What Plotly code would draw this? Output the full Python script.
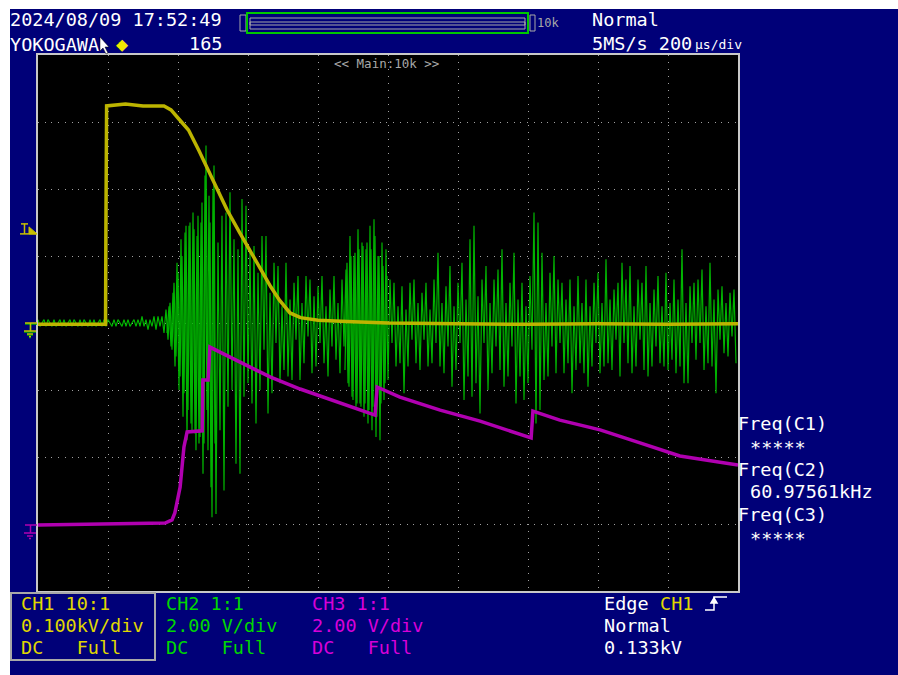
import numpy as np
import plotly.graph_objects as go

# ---------------- data (time in µs, 200 µs/div, 10 div on screen) ----------------
# CH1 : 0.100 kV/div, ground at 0 div
ch1_t_us = [0, 193, 194, 196, 250, 300, 360, 380, 400, 430, 460, 480, 510, 540, 575,
            605, 635, 665, 690, 720, 750, 800, 900, 1000, 1200, 1400, 1600, 1800, 2000]
ch1_kv = [-0.002, -0.002, 0.135, 0.324, 0.327, 0.324, 0.324, 0.318, 0.306, 0.288, 0.257,
          0.235, 0.203, 0.169, 0.136, 0.109, 0.080, 0.054, 0.034, 0.015, 0.008, 0.004,
          0.002, 0.000, -0.001, -0.002, -0.001, -0.002, -0.001]

# CH3 : 2.00 V/div, ground at -3 div
ch3_t_us = [0, 177, 363, 383, 391, 406, 417, 426, 469, 471, 486, 491, 520, 549, 606, 663,
            749, 863, 963, 969, 1034, 1149, 1263, 1409, 1414, 1491, 1606, 1720, 1834, 2000]
ch3_v = [-0.03, 0.0, 0.03, 0.12, 0.33, 1.10, 2.30, 2.75, 2.78, 4.30, 4.30, 5.28, 5.13, 4.96,
         4.66, 4.39, 4.03, 3.61, 3.25, 4.09, 3.79, 3.40, 3.07, 2.57, 3.37, 3.10, 2.81, 2.42,
         2.03, 1.76]

# CH2 : 2.00 V/div, ground at 0 div, samples every 2000/350 µs
ch2_v = [
    0.1, -0.1, 0.0, 0.1, -0.1, 0.1, 0.0, -0.1, 0.1, -0.1,
    0.0, 0.1, -0.1, 0.1, -0.1, 0.0, 0.1, -0.1, 0.1, 0.0,
    -0.1, 0.1, -0.1, 0.1, 0.0, -0.1, 0.1, -0.1, 0.1, -0.1,
    0.0, 0.1, -0.1, 0.1, -0.1, 0.1, 0.0, -0.1, 0.1, -0.1,
    0.1, 0.0, -0.1, 0.1, -0.1, 0.1, -0.1, 0.0, 0.1, -0.1,
    0.1, -0.1, 0.2, -0.1, 0.1, -0.2, 0.1, -0.1, 0.2, -0.2,
    0.2, -0.1, 0.2, -0.3, 0.4, -0.5, 0.6, -0.8, 1.2, -1.0,
    1.5, -1.6, 2.0, -2.1, 2.9, -2.6, 3.0, -3.2, 2.8, -3.8,
    3.2, -3.4, 3.6, -3.6, 5.3, -3.8, 3.0, -5.8, 4.7, -5.7,
    2.4, -3.2, 3.2, -5.0, 3.3, -2.5, 3.9, -2.0, 2.5, -4.2,
    2.2, -4.5, 3.7, -2.2, 3.5, -1.8, 2.1, -2.4, 2.3, -3.0,
    1.5, -2.0, 2.6, -0.8, 2.6, -2.7, 0.9, -2.1, 1.8, -0.6,
    1.7, -1.8, 0.5, -1.4, 1.8, -1.6, 0.7, -1.7, 1.2, -0.5,
    1.4, -1.7, 0.6, -1.2, 1.4, -0.4, 1.3, -1.5, 0.8, -1.3,
    1.1, -0.6, 1.4, -1.2, 0.5, -1.6, 1.0, -0.7, 1.4, -1.1,
    0.6, -1.5, 1.3, -0.7, 1.6, -1.8, 2.6, -2.2, 2.0, -2.5,
    2.8, -2.4, 2.4, -2.8, 2.2, -3.0, 2.9, -3.2, 3.1, -3.4,
    2.0, -3.5, 2.4, -2.3, 2.2, -1.7, 1.3, -0.6, 1.2, -1.3,
    0.5, -1.2, 1.1, -2.1, 0.4, -1.3, 1.2, -0.5, 1.3, -1.2,
    0.6, -1.4, 0.9, -0.5, 1.2, -1.3, 0.4, -1.2, 1.3, -0.6,
    2.1, -1.3, 0.6, -1.5, 1.1, -0.7, 1.7, -1.9, 0.5, -1.4,
    1.2, -0.6, 1.8, -2.3, 0.7, -1.6, 2.5, -2.2, 2.9, -1.8,
    0.8, -2.7, 1.3, -0.6, 1.7, -2.0, 0.6, -1.5, 1.3, -0.7,
    1.6, -1.4, 2.2, -1.9, 0.6, -1.6, 1.2, -0.7, 2.1, -2.4,
    0.7, -1.6, 1.2, -2.3, 0.5, -1.8, 1.4, -0.8, 3.3, -3.0,
    3.0, -2.6, 2.1, -1.7, 0.6, -1.6, 1.5, -0.7, 2.0, -1.5,
    1.3, -0.6, 1.2, -1.5, 0.7, -1.2, 1.3, -2.1, 0.5, -1.4,
    1.4, -1.2, 0.6, -1.5, 1.3, -1.9, 0.5, -1.3, 1.2, -0.6,
    1.5, -1.5, 0.6, -1.3, 1.9, -1.2, 0.7, -1.4, 1.0, -0.5,
    1.2, -1.6, 1.8, -0.6, 1.3, -1.2, 1.7, -1.5, 0.5, -1.3,
    1.3, -0.5, 1.2, -1.4, 1.7, -1.6, 0.6, -1.3, 1.0, -0.7,
    1.4, -1.2, 0.5, -1.3, 1.5, -1.4, 0.6, -1.1, 1.3, -1.5,
    0.7, -1.3, 2.2, -1.8, 0.6, -1.8, 1.1, -0.6, 1.2, -1.1,
    1.3, -0.6, 1.6, -1.4, 0.5, -1.2, 1.8, -1.3, 0.7, -2.1,
    1.0, -0.5, 1.1, -0.9, 0.6, -1.0, 0.9, -0.4, 1.0, -1.2,
]
CH2_DT_US = 2000 / 350

# CH2 in-between samples inside the two dense bursts (start time in µs, values in V)
ch2_burst1_t0_us = 368.6
ch2_burst1_v = [-0.3, 0.5, -0.7, 0.9, -1.3, 1.8, -2.0, 2.5, -2.8, 2.7, -3.5, 2.9, -3.0,
                3.3, -3.3, 2.6, -3.6, 3.0, -4.5, 4.4, -2.6, 3.8, -4.9, 4.0, -3.6]
ch2_burst2_t0_us = 877.1
ch2_burst2_v = [-1.4, 1.8, -1.9, 2.0, -2.3, 2.1, -2.4, 2.2, -2.5, 2.3, -2.4, 2.4, -2.6,
                2.2, -2.5, 2.6, -2.8, 2.0, -2.4, 1.7, -1.8, 1.4]

CH1_SCALE, CH1_OFFSET = 0.1, 0.0   # kV/div, div
CH2_SCALE, CH2_OFFSET = 2.0, 0.0   # V/div
CH3_SCALE, CH3_OFFSET = 2.0, -3.0  # V/div

# ---------------- styling ----------------
NAVY = "#000078"
YEL_T = "#bcb400"
GRN_T = "#00b400"
MAG_T = "#b000b0"
YEL = "#e0d800"
GRN = "#00d800"
MAG = "#d800d8"
GRAY = "#a8a8a8"
MONO = "DejaVu Sans Mono"
FS = 18.5

L, R, T, B = 38, 738, 55, 591
W, H = 898, 675


def px(x):
    return (x - L) / (R - L)


def py(y):
    return (B - y) / (B - T)


fig = go.Figure()

ch2_t = np.arange(len(ch2_v)) * CH2_DT_US
fig.add_trace(go.Scatter(x=ch2_t, y=np.array(ch2_v) / CH2_SCALE + CH2_OFFSET, mode="lines",
                         line=dict(color=GRN_T, width=1.2), hoverinfo="skip"))
for t0, vals in [(ch2_burst1_t0_us, ch2_burst1_v), (ch2_burst2_t0_us, ch2_burst2_v)]:
    tt = t0 + np.arange(len(vals)) * CH2_DT_US
    fig.add_trace(go.Scatter(x=tt, y=np.array(vals) / CH2_SCALE + CH2_OFFSET, mode="lines",
                             line=dict(color=GRN_T, width=1.2), hoverinfo="skip"))
fig.add_trace(go.Scatter(x=ch3_t_us, y=np.array(ch3_v) / CH3_SCALE + CH3_OFFSET, mode="lines",
                         line=dict(color=MAG_T, width=3.5), hoverinfo="skip"))
fig.add_trace(go.Scatter(x=ch1_t_us, y=np.array(ch1_kv) / CH1_SCALE + CH1_OFFSET, mode="lines",
                         line=dict(color=YEL_T, width=3.5), hoverinfo="skip"))

ann = []


def txt(x, y, s, color="#ffffff", size=FS, anchor="left"):
    ann.append(dict(x=px(x), y=py(y), xref="paper", yref="paper", text=s, showarrow=False,
                    xanchor=anchor, yanchor="middle", borderpad=0,
                    font=dict(family=MONO, size=size, color=color)))


# header
txt(9, 20, "2024/08/09 17:52:49")
txt(9, 45, "YOKOGAWA")
txt(115, 44, "◆", "#f0e800", 20)
txt(223, 43, "165", anchor="right")
txt(536, 23, "10k", GRAY, 12)
txt(591, 20, "Normal")
txt(591, 43, "5MS/s 200")
txt(694, 44, "µs/div", "#ffffff", 13)
txt(386, 63, "&lt;&lt; Main:10k &gt;&gt;", GRAY, 12.5, "center")

# right panel
txt(737, 423, "Freq(C1)")
txt(749, 447, "*****")
txt(737, 469, "Freq(C2)")
txt(749, 491, "60.97561kHz")
txt(737, 514, "Freq(C3)")
txt(749, 538, "*****")

# bottom panel
rows = [603, 625, 647]
for x0, col, lines in [(20, YEL, ["CH1 10:1", "0.100kV/div", "DC   Full"]),
                       (165, GRN, ["CH2 1:1", "2.00 V/div", "DC   Full"]),
                       (311, MAG, ["CH3 1:1", "2.00 V/div", "DC   Full"])]:
    for yy, s in zip(rows, lines):
        txt(x0, yy, s, col)
txt(603, 603, "Edge")
txt(659, 603, "CH1", YEL)
txt(603, 625, "Normal")
txt(603, 647, "0.133kV")

shapes = []


def rect(x0, y0, x1, y1, color, width=1, fill=None):
    shapes.append(dict(type="rect", xref="paper", yref="paper", x0=px(x0), x1=px(x1),
                       y0=py(y1), y1=py(y0), line=dict(color=color, width=width),
                       fillcolor=fill if fill else "rgba(0,0,0,0)", layer="above"))


def path(pts, color, width=1, fill=None, closed=False):
    d = "M " + " L ".join(f"{px(a):.5f},{py(b):.5f}" for a, b in pts)
    if closed:
        d += " Z"
    shapes.append(dict(type="path", xref="paper", yref="paper", path=d,
                       line=dict(color=color, width=width),
                       fillcolor=fill if fill else "rgba(0,0,0,0)", layer="above"))


# white frame strips (left and top)
rect(-20, -20, 10, 700, "#ffffff", 0, "#ffffff")
rect(-20, -20, 920, 9, "#ffffff", 0, "#ffffff")

# top bar graphic
rect(240, 15, 246, 31, GRAY, 1)
rect(247, 13, 528, 33, "#00c800", 2)
rect(250, 18, 525, 29, GRAY, 1)
rect(250, 22, 525, 25, GRAY, 1)
rect(530, 15, 535, 31, GRAY, 1)

# mouse pointer
path([(100, 37), (100, 51), (103, 48), (106, 54), (108, 53), (105, 47), (109, 47)],
     "#000000", 0.5, "#ffffff", True)

# bottom CH1 box
rect(11, 593, 155, 660, GRAY, 2)

# trigger edge symbol
path([(705, 610), (714, 610), (714, 597), (727, 597)], "#ffffff", 1.5)
path([(711, 603), (714, 598), (717, 603)], "#ffffff", 1.5, "#ffffff", True)

# trigger level marker (CH1, 0.133 kV)
trig_y = 323 - 0.133 / CH1_SCALE * 67
path([(20, trig_y), (37, trig_y)], "#c8c000", 1.5)
path([(21, trig_y - 10), (28, trig_y - 10)], "#c8c000", 1.5)
path([(24.5, trig_y - 10), (24.5, trig_y)], "#c8c000", 1.5)
path([(29, trig_y - 7), (29, trig_y), (37, trig_y)], "#c8c000", 1, "#c8c000", True)


def ground(yl, color):
    path([(25, yl), (37, yl)], color, 1.5)
    path([(30.5, yl), (30.5, yl + 8)], color, 1.5)
    path([(24, yl + 8), (36, yl + 8)], color, 1.5)
    path([(27, yl + 11), (33, yl + 11)], color, 1.5)
    path([(29, yl + 13.5), (31, yl + 13.5)], color, 1.5)


ground(323 - CH2_OFFSET * 67 + 1, "#00b000")
ground(323 - CH1_OFFSET * 67, "#c8c000")
ground(323 - CH3_OFFSET * 67 + 1, "#b000b0")

fig.update_layout(
    width=W, height=H,
    margin=dict(l=L, r=W - R, t=T, b=H - B, pad=0),
    paper_bgcolor=NAVY, plot_bgcolor="#000000",
    showlegend=False, hovermode=False,
    annotations=ann, shapes=shapes,
    xaxis=dict(range=[0, 2000], dtick=200, tick0=0, showgrid=True, gridcolor="#a0a0a0",
               griddash="1px,6px", gridwidth=1, showticklabels=False, ticks="",
               zeroline=False, showline=True, mirror=True, linecolor="#c8c8c8",
               linewidth=2, fixedrange=True),
    yaxis=dict(range=[-4, 4], dtick=1, tick0=0, showgrid=True, gridcolor="#a0a0a0",
               griddash="1px,5.7px", gridwidth=1, showticklabels=False, ticks="",
               zeroline=False, showline=True, mirror=True, linecolor="#c8c8c8",
               linewidth=2, fixedrange=True),
)

fig.write_html("out.html", config={"displayModeBar": False},
               post_script="document.body.style.margin='0px';document.body.style.overflow='hidden';")
